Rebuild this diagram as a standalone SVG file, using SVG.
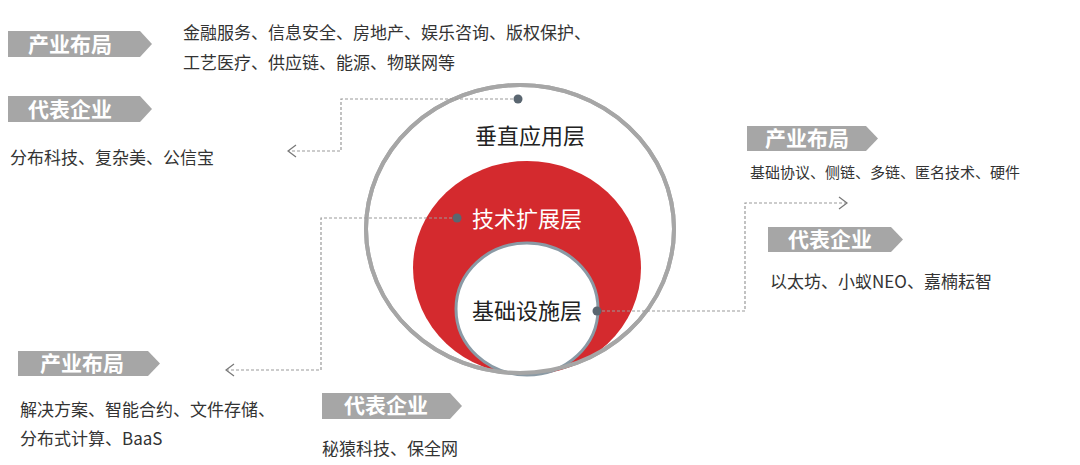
<svg xmlns="http://www.w3.org/2000/svg" width="1080" height="465" viewBox="0 0 1080 465">
<style>
.tag{fill:#a6a6a6}
.tt{fill:#fff;font-family:"Noto Sans CJK SC",sans-serif;font-size:21px;font-weight:bold}
.bd{fill:#333;font-family:"Noto Sans CJK SC",sans-serif;font-size:17px}
.lb{font-family:"Noto Sans CJK SC",sans-serif;font-size:22px}
.cn{fill:none;stroke:#999;stroke-width:1.2;stroke-dasharray:3 2}
.ah{fill:none;stroke:#777;stroke-width:1.2}
</style>
<rect width="1080" height="465" fill="#fff"/>
<g id="layers">
<ellipse cx="520" cy="229" rx="154" ry="144" fill="#fff" stroke="#a6a6a6" stroke-width="4"/>
<ellipse cx="527" cy="268" rx="114" ry="107" fill="#d42a2e"/>
<ellipse cx="527" cy="309" rx="71" ry="66" fill="#fff" stroke="#8a9aa5" stroke-width="3"/>
<ellipse cx="520" cy="229" rx="154" ry="144" fill="none" stroke="#a6a6a6" stroke-width="4"/>
<text class="lb" x="530" y="144" text-anchor="middle" fill="#222">垂直应用层</text>
<text class="lb" x="527" y="227" text-anchor="middle" fill="#fff">技术扩展层</text>
<text class="lb" x="527" y="319" text-anchor="middle" fill="#222">基础设施层</text>
</g>
<g id="connectors">
<path class="cn" d="M518 99H341V151H289"/>
<path class="ah" d="M296 145L288 151L296 157"/>
<path class="cn" d="M457 218H321V370H227"/>
<path class="ah" d="M234 364L226 370L234 376"/>
<path class="cn" d="M597 311H745V203H846"/>
<path class="ah" d="M839 197L847 203L839 209"/>
<circle cx="518" cy="99" r="4.5" fill="#5a6670"/>
<circle cx="457" cy="218" r="4.5" fill="#5a6670"/>
<circle cx="597" cy="311" r="4.5" fill="#5a6670"/>
</g>
<g id="tl">
<path class="tag" d="M8 31H140L152 44L140 57H8Z"/><text class="tt" x="70" y="52" text-anchor="middle">产业布局</text>
<text class="bd" x="183" y="39">金融服务、信息安全、房地产、娱乐咨询、版权保护、</text>
<text class="bd" x="183" y="69">工艺医疗、供应链、能源、物联网等</text>
<path class="tag" d="M8 96H140L152 109L140 122H8Z"/><text class="tt" x="70" y="117" text-anchor="middle">代表企业</text>
<text class="bd" x="10" y="164">分布科技、复杂美、公信宝</text>
</g>
<g id="tr">
<path class="tag" d="M747 126H866L878 138.5L866 151H747Z"/><text class="tt" x="807" y="146" text-anchor="middle">产业布局</text>
<text class="bd" x="750" y="178" style="font-size:15px">基础协议、侧链、多链、匿名技术、硬件</text>
<path class="tag" d="M768 227H891L903 239.5L891 252H768Z"/><text class="tt" x="830" y="247" text-anchor="middle">代表企业</text>
<text class="bd" x="770" y="288">以太坊、小蚁NEO、嘉楠耘智</text>
</g>
<g id="bl">
<path class="tag" d="M18 351H148L160 363.5L148 376H18Z"/><text class="tt" x="82" y="371" text-anchor="middle">产业布局</text>
<text class="bd" x="20" y="416">解决方案、智能合约、文件存储、</text>
<text class="bd" x="20" y="445">分布式计算、BaaS</text>
<path class="tag" d="M322 393H450L462 406L450 419H322Z"/><text class="tt" x="386" y="413" text-anchor="middle">代表企业</text>
<text class="bd" x="322" y="455">秘猿科技、保全网</text>
</g>
</svg>
